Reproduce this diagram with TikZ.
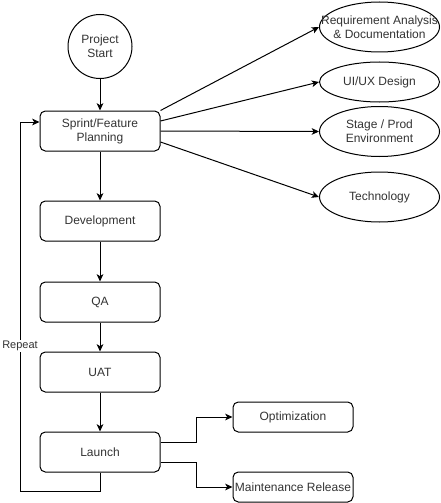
\documentclass[tikz,border=0pt]{standalone}
\usepackage{fontspec}
\setmainfont{Liberation Sans}
\usetikzlibrary{shapes.geometric,arrows.meta,calc}
\begin{document}
\begin{tikzpicture}[x=0.75pt,y=-0.75pt,
  every node/.style={font=\fontsize{9pt}{10.5pt}\selectfont, text=black!80, align=center},
  proc/.style={draw, line width=0.75pt, rounded corners=4pt, minimum width=90pt, minimum height=30pt, inner sep=0pt},
  small/.style={proc, minimum height=22.5pt},
  oval/.style={draw, line width=0.75pt, ellipse, minimum width=90pt, minimum height=37.5pt, inner sep=0pt},
  startc/.style={draw, line width=0.75pt, circle, minimum size=48pt, inner sep=0pt},
  conn/.style={line width=0.75pt, -{Stealth[length=5.5pt,width=5pt,inset=1.5pt]}},
  plain/.style={line width=0.75pt}
]
\useasboundingbox (0,0) rectangle (441,503);
\node[startc] (start) at (100,46.5) {Project\\Start};
\node[proc] (sprint) at (100,131) {Sprint/Feature\\Planning};
\node[proc] (dev) at (100,221) {Development};
\node[proc] (qa) at (100,302) {QA};
\node[proc] (uat) at (100,372) {UAT};
\node[proc] (launch) at (100,452) {Launch};
\node[small] (opt) at (293,417) {Optimization};
\node[small] (maint) at (293,487) {Maintenance Release};
\node[oval] (req) at (379.5,27) {};
\node (reqt) at (req) {Requirement Analysis\\\& Documentation};
\node[oval, minimum height=30pt] (ui) at (379.5,82) {};
\node (uit) at (ui) {UI/UX Design};
\node[oval] (stage) at (379.5,131.5) {};
\node (staget) at (stage) {Stage / Prod\\Environment};
\node[oval] (tech) at (379.5,197) {};
\node (techt) at (tech) {Technology};

\draw[conn] (start) -- (sprint);
\draw[conn] (sprint) -- (dev);
\draw[conn] (dev) -- (qa);
\draw[conn] (qa) -- (uat);
\draw[conn] (uat) -- (launch);

\draw[conn] (sprint.north east) -- (req.west);
\draw[conn] ($(sprint.east)+(0,-10)$) -- (ui.west);
\draw[conn] (sprint.east) -- (stage.west);
\draw[conn] ($(sprint.east)+(0,11)$) -- (tech.west);

\coordinate (lo) at (196,452);
\draw[conn] ($(launch.east)+(0,-10)$) -| (lo |- opt.west) -- (opt.west);
\draw[conn] ($(launch.east)+(0,10)$) -| (lo |- maint.west) -- (maint.west);

\coordinate (l1) at (20,491);
\coordinate (l2) at (20,122);
\draw[conn] (launch.south) |- (l1) -- (l2) -- (sprint.west |- l2);
\node[fill=white, inner sep=1pt, font=\fontsize{8.25pt}{9pt}\selectfont] (rep) at (20,346) {Repeat};
\end{tikzpicture}
\end{document}
